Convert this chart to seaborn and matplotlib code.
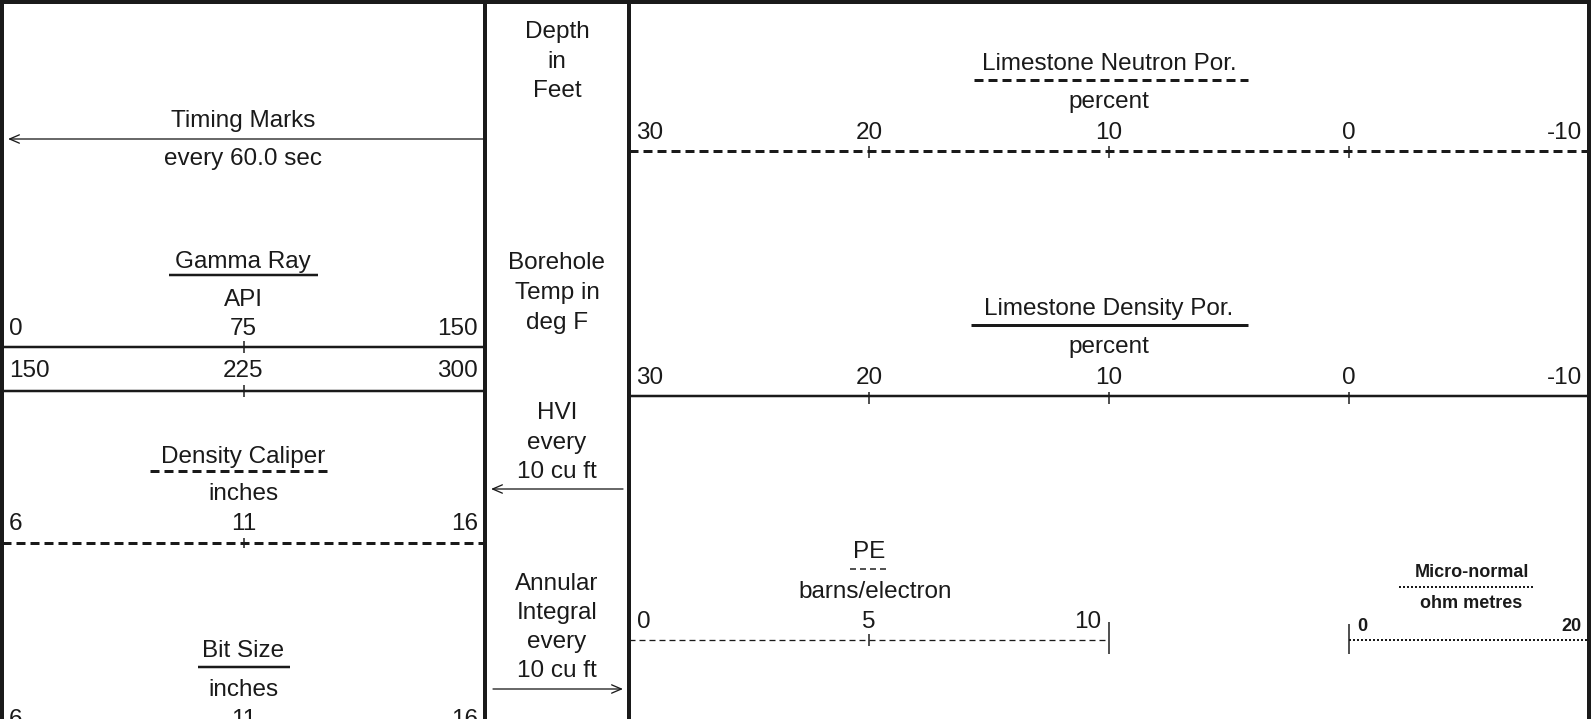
import numpy as np
import pandas as pd
import matplotlib
matplotlib.use("Agg")
import matplotlib.pyplot as plt
import matplotlib.transforms as mtransforms
import seaborn as sns

W, H = 1591, 719

# scale values
gamma_ticks = [0, 75, 150]
gamma_wrap_ticks = [150, 225, 300]
caliper_ticks = [6, 11, 16]
bitsize_ticks = [6, 11, 16]
neutron_ticks = [30, 20, 10, 0, -10]
density_ticks = [30, 20, 10, 0, -10]
pe_ticks = [0, 5, 10]
micro_ticks = [0, 20]

sns.set_theme(style="white")
plt.rcParams["font.family"] = ["Liberation Sans", "DejaVu Sans"]

fs = 17.5
fs_small = 13


def pt(v):
    # pixels -> points at 100 dpi
    return v * 0.72


def dashes(on, off, lw):
    return (0, (on / lw, off / lw))


fig = plt.figure(figsize=(W / 100, H / 100), dpi=100)
ax = fig.add_axes([0, 0, 1, 1])
ax.set_xlim(0, W)
ax.set_ylim(H, 0)
ax.axis("off")


def txt(x, y, s, size=fs, weight="normal", ha="center"):
    ax.text(x, y, s, fontsize=size, fontweight=weight, ha=ha, va="baseline", color="k")


def hline(x0, x1, y, lw, ls="-"):
    ax.plot([x0, x1], [y, y], color="k", lw=pt(lw), linestyle=ls,
            solid_capstyle="butt", dash_capstyle="butt", clip_on=False)


def arrow(x_from, x_to, y):
    ax.annotate("", xy=(x_to, y), xytext=(x_from, y),
                arrowprops=dict(arrowstyle="->,head_length=0.7,head_width=0.3",
                                lw=pt(1.3), color="k", shrinkA=0, shrinkB=0,
                                mutation_scale=10))


def scale(x0, x1, y_line, y_lab, ticks, lw=2.5, ls="-", tick_span=(-6, 6),
          end_tick=None, size=fs, weight="normal", pad=7, tick_lw=1.5):
    a = fig.add_axes([x0 / W, 0, (x1 - x0) / W, 1])
    df = pd.DataFrame({"v": [ticks[0], ticks[-1]], "y": [y_line, y_line]})
    sns.lineplot(data=df, x="v", y="y", ax=a, color="k", linewidth=pt(lw),
                 linestyle=ls, sort=False, errorbar=None)
    for ln in a.lines:
        ln.set_clip_on(False)
        ln.set_solid_capstyle("butt")
        ln.set_dash_capstyle("butt")
    a.set_xlim(ticks[0], ticks[-1])
    a.set_ylim(H, 0)
    a.axis("off")
    inner = ticks[1:-1]
    if inner:
        a.vlines(inner, y_line + tick_span[0], y_line + tick_span[1],
                 color="k", lw=pt(tick_lw), clip_on=False)
    if end_tick is not None:
        v, t0, t1 = end_tick
        a.vlines([v], y_line + t0, y_line + t1, color="k", lw=pt(tick_lw), clip_on=False)
    left = mtransforms.offset_copy(a.transData, fig=fig, x=pt(pad), y=0, units="points")
    right = mtransforms.offset_copy(a.transData, fig=fig, x=-pt(pad), y=0, units="points")
    for i, v in enumerate(ticks):
        if i == 0:
            tr, ha = left, "left"
        elif i == len(ticks) - 1:
            tr, ha = right, "right"
        else:
            tr, ha = a.transData, "center"
        a.text(v, y_lab, str(v), transform=tr, ha=ha, va="baseline",
               fontsize=size, fontweight=weight, color="k", clip_on=False)
    return a


# frame and track dividers
hline(0, W, 2, 4)
for x in [2, 485, 629, 1589]:
    ax.plot([x, x], [0, H], color="k", lw=pt(4), clip_on=False)

# track 1
txt(243, 127, "Timing Marks")
arrow(485, 8, 139)
txt(243, 165, "every 60.0 sec")

txt(243, 268, "Gamma Ray")
hline(169, 318, 275, 2.5)
txt(243, 306, "API")
scale(2, 485, 347, 335, gamma_ticks)
scale(2, 485, 391, 377, gamma_wrap_ticks)

txt(243, 463, "Density Caliper")
hline(150, 332, 471, 3, dashes(9, 5, 3))
txt(243, 500, "inches")
scale(2, 485, 543, 530, caliper_ticks, lw=3, ls=dashes(9, 5, 3), tick_span=(-5, 5))

txt(243, 657, "Bit Size")
hline(198, 290, 667, 2.5)
txt(243, 696, "inches")
scale(2, 485, 740, 726, bitsize_ticks)

# depth track
for y, s in [(38, "Depth"), (68, "in"), (97, "Feet"),
             (269, "Borehole"), (299, "Temp in"), (329, "deg F"),
             (419, "HVI"), (449, "every"), (478, "10 cu ft"),
             (590, "Annular"), (619, "Integral"), (648, "every"), (677, "10 cu ft")]:
    txt(557, y, s)
arrow(623, 491, 489)
arrow(493, 623, 689)

# track 2/3
txt(1109, 70, "Limestone Neutron Por.")
hline(974, 1248, 80, 3, dashes(9, 5, 3))
txt(1109, 108, "percent")
scale(629, 1589, 151, 139, neutron_ticks, lw=3, ls=dashes(9, 5, 3), tick_span=(-5, 7))

txt(1109, 315, "Limestone Density Por.")
hline(971, 1248, 325, 3)
txt(1109, 353, "percent")
scale(629, 1589, 396, 384, density_ticks, lw=2.5, tick_span=(-4, 8))

txt(869, 558, "PE")
hline(850, 887, 569, 1.5, dashes(6, 4, 1.5))
txt(875, 598, "barns/electron")
scale(629, 1109, 640, 628, pe_ticks, lw=1.3, ls=dashes(6, 4, 1.3),
      end_tick=(10, -18, 14), pad=8)

txt(1472, 577, "Micro-normal", size=fs_small, weight="bold")
hline(1399, 1535, 587, 2, dashes(2, 2, 2))
txt(1471, 608, "ohm metres", size=fs_small, weight="bold")
scale(1349, 1589, 640, 631, micro_ticks, lw=2, ls=dashes(2, 2, 2),
      end_tick=(0, -16, 14), size=fs_small, weight="bold", pad=8)

fig.savefig("out.png", dpi=100)
